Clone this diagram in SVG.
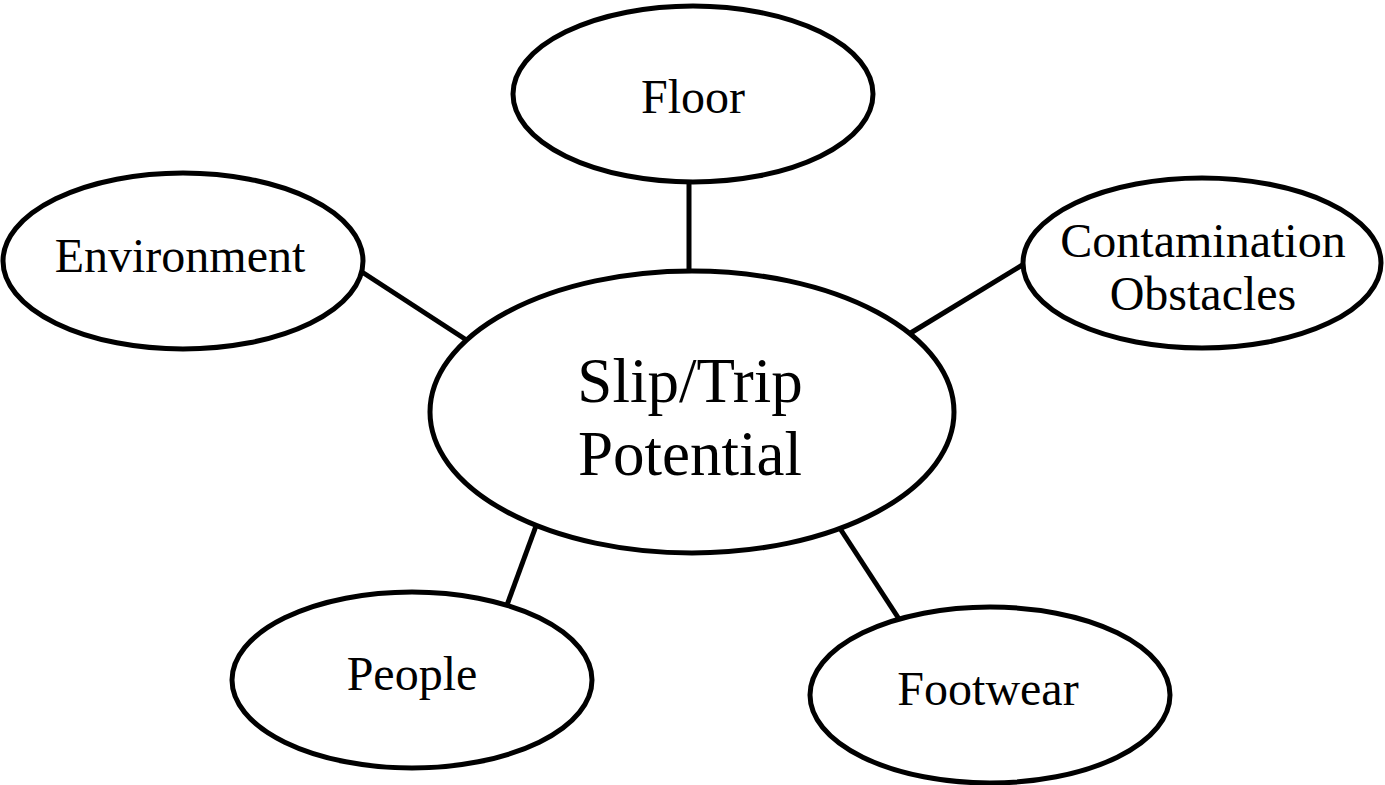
<svg xmlns="http://www.w3.org/2000/svg" width="1385" height="785" viewBox="0 0 1385 785">
<style>
.n{fill:#fff;stroke:#000;stroke-width:5}
.c{stroke:#000;stroke-width:5;fill:none}
text{font-family:"Liberation Serif","Times New Roman",serif;fill:#000;text-anchor:middle}
.s{font-size:48px}
.b{font-size:63px}
</style>
<rect width="1385" height="785" fill="#fff"/>
<g id="connectors">
<line class="c" x1="689" y1="180" x2="689" y2="273"/>
<line class="c" x1="362" y1="272" x2="468" y2="341"/>
<line class="c" x1="1024" y1="264" x2="909" y2="334"/>
<line class="c" x1="536" y1="526" x2="507" y2="605"/>
<line class="c" x1="841" y1="530" x2="901" y2="622"/>
</g>
<g id="center">
<ellipse class="n" cx="692" cy="412" rx="262" ry="141"/>
<text class="b" x="690" y="402">Slip/Trip</text>
<text class="b" x="690" y="475">Potential</text>
</g>
<g id="floor">
<ellipse class="n" cx="693" cy="94" rx="180" ry="88"/>
<text class="s" x="693" y="113">Floor</text>
</g>
<g id="environment">
<ellipse class="n" cx="183" cy="261" rx="180" ry="88"/>
<text class="s" x="180" y="272">Environment</text>
</g>
<g id="contamination">
<ellipse class="n" cx="1202" cy="263" rx="179" ry="85"/>
<text class="s" x="1203" y="257">Contamination</text>
<text class="s" x="1203" y="310">Obstacles</text>
</g>
<g id="people">
<ellipse class="n" cx="412" cy="680" rx="180" ry="88"/>
<text class="s" x="412" y="690">People</text>
</g>
<g id="footwear">
<ellipse class="n" cx="990" cy="695" rx="180" ry="88"/>
<text class="s" x="988" y="705">Footwear</text>
</g>
</svg>
